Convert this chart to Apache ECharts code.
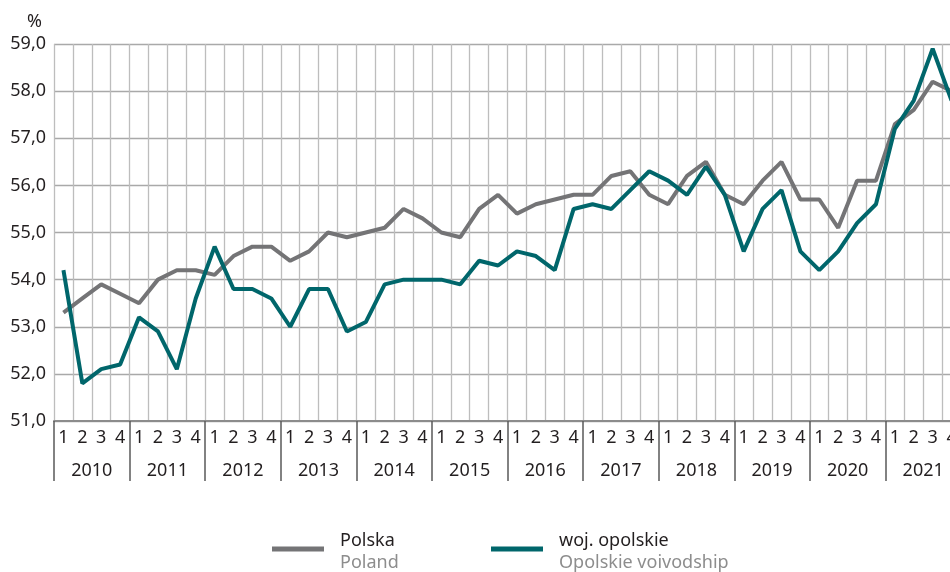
<!DOCTYPE html>
<html>
<head>
<meta charset="utf-8">
<script src="https://cdn.jsdelivr.net/npm/echarts@6/dist/echarts.min.js"></script>
<style>
  html, body { margin: 0; padding: 0; background: #fff; }
  #chart { width: 950px; height: 572px; }
</style>
</head>
<body>
<div id="chart"></div>
<script>
// dane kwartalne 2010-2021
var years = ['2010','2011','2012','2013','2014','2015','2016','2017','2018','2019','2020','2021'];
var quarterNames = ['1','2','3','4'];

var polska = [
    53.3, 53.6, 53.9, 53.7,
    53.5, 54.0, 54.2, 54.2,
    54.1, 54.5, 54.7, 54.7,
    54.4, 54.6, 55.0, 54.9,
    55.0, 55.1, 55.5, 55.3,
    55.0, 54.9, 55.5, 55.8,
    55.4, 55.6, 55.7, 55.8,
    55.8, 56.2, 56.3, 55.8,
    55.6, 56.2, 56.5, 55.8,
    55.6, 56.1, 56.5, 55.7,
    55.7, 55.1, 56.1, 56.1,
    57.3, 57.6, 58.2, 58.0
];
var opolskie = [
    54.2, 51.8, 52.1, 52.2,
    53.2, 52.9, 52.1, 53.6,
    54.7, 53.8, 53.8, 53.6,
    53.0, 53.8, 53.8, 52.9,
    53.1, 53.9, 54.0, 54.0,
    54.0, 53.9, 54.4, 54.3,
    54.6, 54.5, 54.2, 55.5,
    55.6, 55.5, 55.9, 56.3,
    56.1, 55.8, 56.4, 55.8,
    54.6, 55.5, 55.9, 54.6,
    54.2, 54.6, 55.2, 55.6,
    57.2, 57.8, 58.9, 57.8
];

var seriesNames = ['Polska', 'woj. opolskie'];
var seriesSubNames = { 'Polska': 'Poland', 'woj. opolskie': 'Opolskie voivodship' };

var yMin = 51, yMax = 59, yStep = 1;

// etykiety kwartalow: 1 2 3 4 dla kazdego roku
var quarters = [];
for (var i = 0; i < years.length; i++) {
    for (var q = 0; q < quarterNames.length; q++) {
        quarters.push(quarterNames[q]);
    }
}

var FONT = '"Noto Sans", sans-serif';
var TEXT = '#231f20';

function legendCfg(name, left) {
    return {
        data: [name],
        left: left,
        top: 532,
        padding: 0,
        icon: 'rect',
        itemWidth: 52,
        itemHeight: 5,
        selectedMode: false,
        formatter: function (n) {
            return '{a|' + n + '}\n{b|' + seriesSubNames[n] + '}';
        },
        textStyle: {
            padding: [6, 0, 0, 11],
            rich: {
                a: { fontFamily: FONT, fontSize: 18, color: TEXT, lineHeight: 22 },
                b: { fontFamily: FONT, fontSize: 18, color: '#8d8d8d', lineHeight: 22 }
            }
        }
    };
}

var chart = echarts.init(document.getElementById('chart'), null, { renderer: 'canvas' });

chart.setOption({
    animation: false,
    backgroundColor: '#fff',
    title: {
        text: '%',
        left: 22,
        top: 8,
        textStyle: { fontFamily: FONT, fontSize: 18, fontWeight: 'normal', color: TEXT }
    },
    legend: [
        legendCfg(seriesNames[0], 272),
        legendCfg(seriesNames[1], 491)
    ],
    // wykres wychodzi poza prawa krawedz (IV kw. 2021 uciety)
    grid: { left: 54, top: 44, width: 907, height: 377, outerBoundsMode: 'none', containLabel: false },
    xAxis: [
        {
            type: 'category',
            data: quarters,
            boundaryGap: true,
            position: 'bottom',
            axisLine: { lineStyle: { color: '#8c8c8c', width: 2 } },
            axisTick: { show: false },
            axisLabel: { interval: 0, margin: 8, fontFamily: FONT, fontSize: 18, color: TEXT },
            splitLine: { show: true, interval: 0, lineStyle: { color: '#bdbdbd', width: 1.3 } }
        },
        {
            type: 'category',
            data: years,
            boundaryGap: true,
            position: 'bottom',
            axisLine: { show: false },
            axisTick: { show: true, interval: 0, length: 60, lineStyle: { color: '#5a5a5a', width: 1.5 } },
            axisLabel: { interval: 0, margin: 41, fontFamily: FONT, fontSize: 18, color: TEXT },
            splitLine: { show: false }
        }
    ],
    yAxis: {
        type: 'value',
        min: yMin,
        max: yMax,
        interval: yStep,
        axisLine: { show: false },
        axisTick: { show: false },
        axisLabel: {
            margin: 8,
            fontFamily: FONT,
            fontSize: 18,
            color: TEXT,
            formatter: function (v) { return v.toFixed(1).replace('.', ','); }
        },
        splitLine: { lineStyle: { color: '#a9a9a9', width: 1.3 } }
    },
    series: [
        {
            name: seriesNames[0],
            type: 'line',
            xAxisIndex: 0,
            data: polska,
            symbol: 'none',
            color: '#747476',
            lineStyle: { width: 4, color: '#747476' }
        },
        {
            name: seriesNames[1],
            type: 'line',
            xAxisIndex: 0,
            data: opolskie,
            symbol: 'none',
            color: '#00666b',
            lineStyle: { width: 4, color: '#00666b' }
        }
    ]
});
</script>
</body>
</html>
